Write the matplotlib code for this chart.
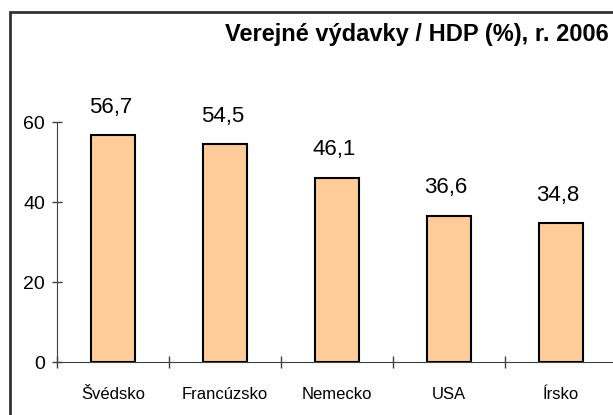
import matplotlib
matplotlib.use("Agg")
import matplotlib.pyplot as plt
from matplotlib.patches import Rectangle

krajiny = ["Švédsko", "Francúzsko", "Nemecko", "USA", "Írsko"]
vydavky = [56.7, 54.5, 46.1, 36.6, 34.8]
y_ticks = [0, 20, 40, 60]

plt.rcParams['font.family'] = ['Liberation Sans', 'DejaVu Sans']

fig = plt.figure(figsize=(6.13, 4.15), dpi=100)
W, H = 613, 415

# oblast grafu (presahuje pravy okraj obrazka)
ax = fig.add_axes([57 / W, 53 / H, 560 / W, 280 / H])

x = range(len(krajiny))
ax.bar(x, vydavky, width=0.4, color="#FFCC99", edgecolor="black", linewidth=1.5, zorder=3)

for i, v in enumerate(vydavky):
    ax.annotate(f"{v:.1f}".replace(".", ","), (i, v), xytext=(-2, 20),
                textcoords="offset points", ha="center", va="center", fontsize=16)

ax.set_xlim(-0.5, len(krajiny) - 0.5)
ax.set_ylim(0, 70)

for s in ["top", "right"]:
    ax.spines[s].set_visible(False)
ax.spines["left"].set_bounds(0, 60)
ax.spines["left"].set_color("#404040")
ax.spines["bottom"].set_color("#404040")

ax.set_yticks(y_ticks)
ax.set_yticklabels([str(t) for t in y_ticks], fontsize=14)
ax.tick_params(axis="y", direction="inout", length=7, width=1, color="#404040", pad=5)

ax.set_xticks([i + 0.5 for i in range(-1, len(krajiny))])
ax.set_xticklabels([])
ax.set_xticks(list(x), minor=True)
ax.set_xticklabels(krajiny, minor=True, fontsize=12)
ax.tick_params(axis="x", which="major", direction="inout", length=8, width=1, color="#404040")
ax.tick_params(axis="x", which="minor", length=0, pad=18)

fig.text(609 / W, 1 - 35 / H, "Verejné výdavky / HDP (%), r. 2006", ha="right", va="center",
         fontsize=17, fontweight="bold")

# ramcek okolo grafu
fig.patches.append(Rectangle((10 / W, -0.1), 1.2, 1.1 - 12 / H, transform=fig.transFigure,
                             fill=False, edgecolor="#333333", linewidth=2))

fig.savefig("out.png", dpi=100)
